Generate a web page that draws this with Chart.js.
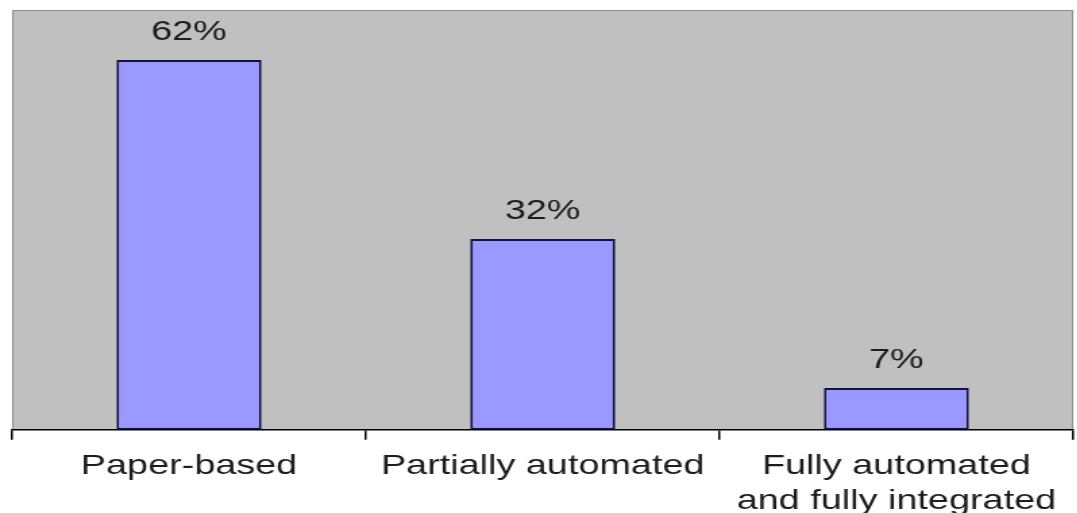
<!DOCTYPE html>
<html>
<head>
<meta charset="utf-8">
<script src="https://cdn.jsdelivr.net/npm/chart.js@4/dist/chart.umd.min.js"></script>
<style>
  html, body { margin: 0; padding: 0; background: #fff; overflow: hidden; }
  /* the source picture is stretched sideways, so the whole canvas is too */
  #wrap { width: 798px; height: 513px; transform: scaleX(1.35); transform-origin: 0 0; }
</style>
</head>
<body>
<div id="wrap"><canvas id="chart" width="798" height="513"></canvas></div>
<script>
const categories = ['Paper-based', 'Partially automated', ['Fully automated', 'and fully integrated']];
const shares = [62, 32, 7];
const valueLabels = ['62%', '32%', '7%'];

const FONT = '"Liberation Sans", Arial, sans-serif';

const plotBackground = {
  id: 'plotBackground',
  beforeDraw(chart) {
    const { ctx, chartArea: a } = chart;
    ctx.save();
    ctx.fillStyle = '#c0c0c0';
    ctx.fillRect(a.left, a.top, a.right - a.left, a.bottom - a.top);
    ctx.strokeStyle = '#8c8c8c';
    ctx.lineWidth = 1;
    ctx.beginPath();
    ctx.moveTo(a.left + 0.5, a.bottom);
    ctx.lineTo(a.left + 0.5, a.top + 0.5);
    ctx.lineTo(a.right - 0.5, a.top + 0.5);
    ctx.lineTo(a.right - 0.5, a.bottom);
    ctx.stroke();
    ctx.restore();
  }
};

const valueLabelsPlugin = {
  id: 'valueLabels',
  afterDatasetsDraw(chart) {
    const { ctx } = chart;
    const meta = chart.getDatasetMeta(0);
    ctx.save();
    ctx.fillStyle = '#1c1c1c';
    ctx.font = '28px ' + FONT;
    ctx.textAlign = 'center';
    ctx.textBaseline = 'alphabetic';
    meta.data.forEach((bar, i) => {
      ctx.fillText(valueLabels[i], bar.x, bar.y - 20);
    });
    ctx.restore();
  }
};

new Chart(document.getElementById('chart'), {
  type: 'bar',
  data: {
    labels: categories,
    datasets: [{
      data: shares,
      backgroundColor: '#9999ff',
      borderColor: '#10104a',
      borderWidth: 2,
      borderSkipped: false,
      categoryPercentage: 1,
      barPercentage: 0.41
    }]
  },
  options: {
    responsive: false,
    animation: false,
    layout: { padding: { left: 9, top: 10, right: 3, bottom: -15 } },
    plugins: {
      legend: { display: false },
      tooltip: { enabled: false }
    },
    scales: {
      y: { display: false, min: 0, max: 70.4 },
      x: {
        offset: true,
        border: { display: true, color: '#000', width: 1.5 },
        grid: {
          offset: true,
          drawOnChartArea: false,
          drawTicks: true,
          tickLength: 10,
          color: '#000',
          lineWidth: 1.5
        },
        ticks: {
          color: '#1c1c1c',
          padding: 10,
          maxRotation: 0,
          autoSkip: false,
          font: { family: FONT, size: 28, lineHeight: 1.22 }
        }
      }
    }
  },
  plugins: [plotBackground, valueLabelsPlugin]
});
</script>
</body>
</html>
